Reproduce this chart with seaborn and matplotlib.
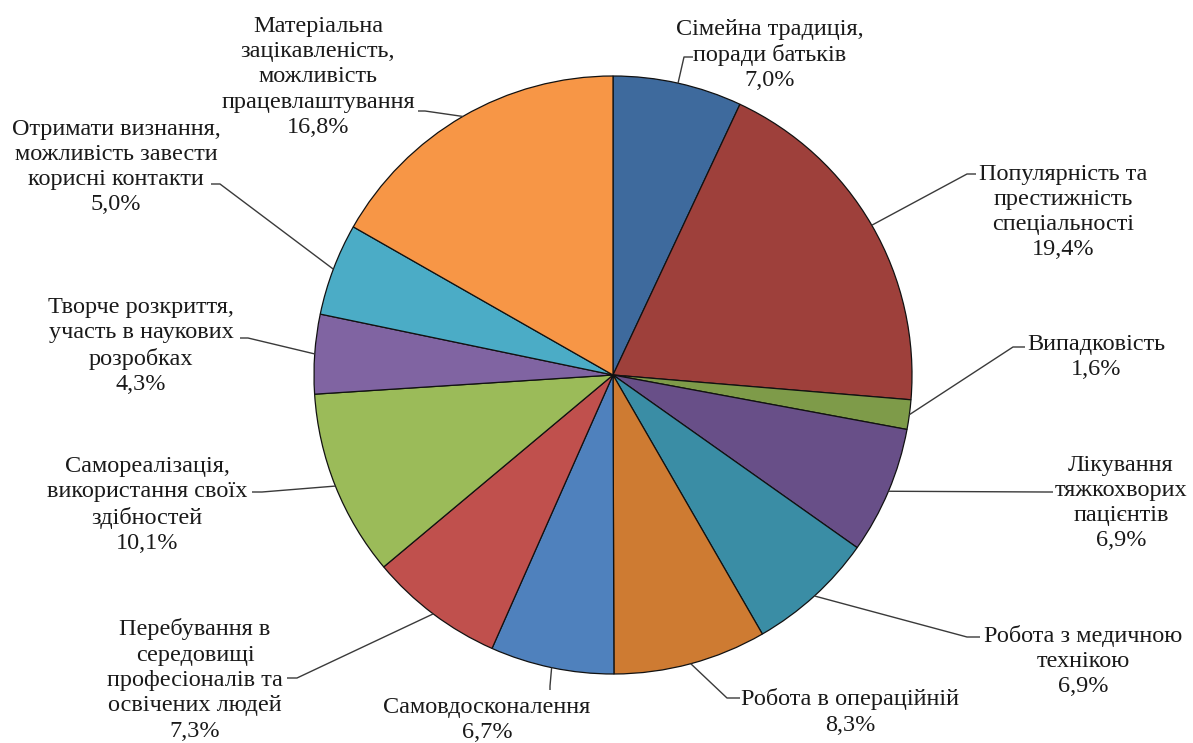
import matplotlib
matplotlib.use("Agg")
import matplotlib.pyplot as plt
import seaborn as sns
import numpy as np

# data
reasons = [
    "Сімейна традиція,\nпоради батьків",
    "Популярність та\nпрестижність\nспеціальності",
    "Випадковість",
    "Лікування\nтяжкохворих\nпацієнтів",
    "Робота з медичною\nтехнікою",
    "Робота в операційній",
    "Самовдосконалення",
    "Перебування в\nсередовищі\nпрофесіоналів та\nосвічених людей",
    "Самореалізація,\nвикористання своїх\nздібностей",
    "Творче розкриття,\nучасть в наукових\nрозробках",
    "Отримати визнання,\nможливість завести\nкорисні контакти",
    "Матеріальна\nзацікавленість,\nможливість\nпрацевлаштування",
]
shares = [7.0, 19.4, 1.6, 6.9, 6.9, 8.3, 6.7, 7.3, 10.1, 4.3, 5.0, 16.8]

colors = ["#3E6A9D", "#9E403B", "#7E9B49", "#684F88", "#3A8DA5", "#CE7B32",
          "#4F81BD", "#C0504D", "#9BBB59", "#8064A2", "#4BACC6", "#F79646"]

# layout in pixels (x from left, y from top)
W, H = 1193, 743
CX, CY, R = 613, 375, 299
label_pos = [(770, 55), (1063, 212), (1096, 357), (1121, 503), (1083, 661),
             (850, 712), (487, 720), (195, 680), (147, 505), (141, 346),
             (116, 167), (318, 77)]
leader_elbow = [(684, 57), (967, 174), (1013, 347), (1045, 492), (967, 637),
                (727, 698), (550, 686), (297, 678), (262, 492), (248, 338),
                (220, 184), (425, 111)]
leader_end = [(693, 57), (976, 174), (1025, 347), (1053, 492), (980, 637),
              (740, 698), (550, 690), (287, 678), (252, 492), (240, 338),
              (211, 184), (418, 111)]

sns.set_theme(style="white")
plt.rcParams['font.family'] = ['Liberation Serif', 'DejaVu Serif']

fig = plt.figure(figsize=(W / 100, H / 100), dpi=100)
ax = fig.add_axes([0, 0, 1, 1])

wedges, _ = ax.pie(shares, colors=sns.color_palette(colors), startangle=90,
                   counterclock=False, center=(CX, H - CY), radius=R,
                   normalize=True,
                   wedgeprops=dict(edgecolor="#111111", linewidth=0.9))
ax.set_xlim(0, W)
ax.set_ylim(0, H)
ax.set_aspect('equal')
ax.axis('off')

for i, w in enumerate(wedges):
    mid = np.deg2rad((w.theta1 + w.theta2) / 2)
    ex = CX + R * np.cos(mid)
    ey = (H - CY) + R * np.sin(mid)
    xs = [ex, leader_elbow[i][0], leader_end[i][0]]
    ys = [ey, H - leader_elbow[i][1], H - leader_end[i][1]]
    ax.plot(xs, ys, color="#3a3a3a", lw=1.0, solid_capstyle='butt')

    pct = f"{shares[i]:.1f}%".replace(".", ",")
    lx, ly = label_pos[i]
    ax.text(lx, H - ly, f"{reasons[i]}\n{pct}", ha="center", va="center",
            multialignment="center", fontsize=17.5, linespacing=1.27,
            color="#1a1a1a")

fig.savefig("out.png", dpi=100, facecolor="white")
